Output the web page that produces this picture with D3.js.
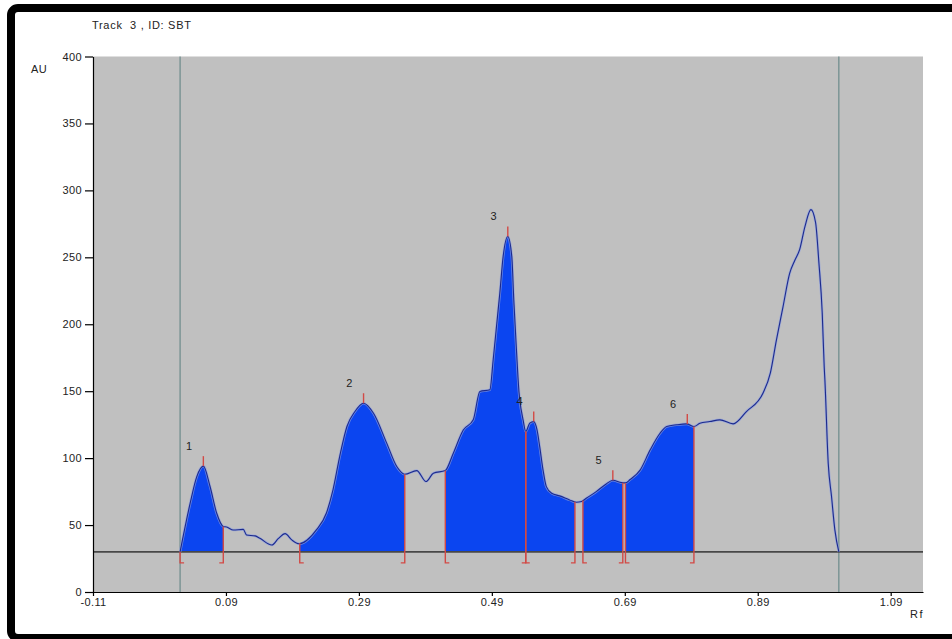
<!DOCTYPE html>
<html>
<head>
<meta charset="utf-8">
<script src="https://cdn.jsdelivr.net/npm/d3@7"></script>
<style>
  html, body { margin: 0; padding: 0; background: #fff; }
  svg text { font-family: "Liberation Sans", Arial, sans-serif; fill: #222; font-size: 11px; letter-spacing: 0.4px; }
</style>
</head>
<body>
<div id="chart"></div>
<script>
// densitogram trace (Rf, AU)
const rfValues = [
  0.021, 0.036, 0.046, 0.056, 0.066, 0.076, 0.086, 0.091, 0.101, 0.116,
  0.121, 0.134, 0.141, 0.159, 0.169, 0.179, 0.189, 0.200, 0.226, 0.241,
  0.251, 0.261, 0.272, 0.284, 0.297, 0.312, 0.332, 0.347, 0.359, 0.377,
  0.391, 0.402, 0.420, 0.432, 0.447, 0.462, 0.472, 0.487, 0.492, 0.497,
  0.502, 0.507, 0.514, 0.520, 0.523, 0.527, 0.531, 0.532, 0.537, 0.541,
  0.547, 0.553, 0.558, 0.562, 0.567, 0.572, 0.580, 0.592, 0.607, 0.617,
  0.625, 0.632, 0.647, 0.662, 0.672, 0.685, 0.691, 0.698, 0.713, 0.728,
  0.743, 0.753, 0.768, 0.783, 0.794, 0.803, 0.818, 0.833, 0.853, 0.873,
  0.898, 0.909, 0.918, 0.928, 0.938, 0.946, 0.953, 0.961, 0.970, 0.977,
  0.982, 0.987, 0.990, 0.991, 0.996, 1.001, 1.006, 1.012,
];
const auValues = [
  30, 66, 86, 94, 79, 59, 49, 48.6, 46.3, 46.8,
  42.6, 41.9, 40.1, 35.1, 40, 43.6, 38.9, 36, 46.4, 58.8,
  76.3, 101, 123.6, 134.8, 141, 133.5, 111, 93.7, 88, 90.7,
  82.5, 88.7, 90.7, 103.7, 121, 128.6, 149.8, 151, 173.5, 198.4,
  223.3, 250.7, 265.6, 250.7, 218.3, 181, 148.6, 143.6, 128.6, 119.9,
  126.1, 127.3, 121.1, 108.6, 91.2, 78.7, 73.8, 71.8, 68.8, 67,
  67.6, 70, 75, 80.7, 83.5, 81.7, 81.5, 84, 91, 106,
  118.6, 123.6, 124.9, 125.6, 123.6, 126, 127.3, 128.6, 125.6, 134.8,
  148.6, 163.7, 188, 213, 238, 248, 255.7, 273, 285.6, 276,
  246, 208.6, 168, 158.5, 96.4, 71.3, 46.4, 30,
];

// integrated peaks
const peakIds = [1, 2, 3, 4, 5, 6];
const peakStart = [0.021, 0.201, 0.420, 0.541, 0.627, 0.691];
const peakMax = [0.056, 0.297, 0.514, 0.553, 0.672, 0.784];
const peakEnd = [0.086, 0.359, 0.541, 0.615, 0.687, 0.794];

const baselineAU = 30;
const startRf = 0.021;
const frontRf = 1.012;

const yTicks = [0, 50, 100, 150, 200, 250, 300, 350, 400];
const xTicks = [-0.11, 0.09, 0.29, 0.49, 0.69, 0.89, 1.09];
const title = 'Track  3 , ID: SBT';

const W = 952;
const H = 639;
const plotLeft = 93;
const plotRight = 923;
const plotTop = 56.5;
const plotBottom = 592;

const svg = d3.select('#chart')
  .append('svg')
  .attr('width', W)
  .attr('height', H);

// black frame
svg.append('rect')
  .attr('x', 11).attr('y', 8)
  .attr('width', 1000).attr('height', 630)
  .attr('rx', 7)
  .attr('fill', '#fff')
  .attr('stroke', '#000')
  .attr('stroke-width', 8);

const x = d3.scaleLinear().domain([-0.11, 1.1386]).range([plotLeft, plotRight]);
const y = d3.scaleLinear().domain([0, 400]).range([plotBottom, plotTop]);

const trace = rfValues.map((rf, i) => ({ rf, au: auValues[i] }));

// value of the trace at any Rf (for the integration edges)
const auAt = (rf) => {
  const i = d3.bisector((d) => d.rf).left(trace, rf);
  if (i <= 0) return trace[0].au;
  if (i >= trace.length) return trace[trace.length - 1].au;
  const a = trace[i - 1];
  const b = trace[i];
  return a.au + (b.au - a.au) * (rf - a.rf) / (b.rf - a.rf);
};

// plot background
svg.append('rect')
  .attr('x', plotLeft).attr('y', plotTop)
  .attr('width', plotRight - plotLeft).attr('height', plotBottom - plotTop)
  .attr('fill', '#c0c0c0');

// filled peak areas
const area = d3.area()
  .curve(d3.curveMonotoneX)
  .x((d) => x(d.rf))
  .y0(y(baselineAU))
  .y1((d) => y(d.au));

peakIds.forEach((id, i) => {
  const s = peakStart[i];
  const e = peakEnd[i];
  const pts = [{ rf: s, au: auAt(s) }]
    .concat(trace.filter((d) => d.rf > s && d.rf < e))
    .concat([{ rf: e, au: auAt(e) }]);
  svg.append('path')
    .datum(pts)
    .attr('d', area)
    .attr('fill', '#0b45f0');
});

// start / front lines
svg.selectAll('.front')
  .data([startRf, frontRf])
  .enter()
  .append('line')
  .attr('class', 'front')
  .attr('x1', (d) => x(d)).attr('x2', (d) => x(d))
  .attr('y1', plotTop).attr('y2', plotBottom)
  .attr('stroke', '#6a8a8a')
  .attr('stroke-width', 1.2);

// baseline
svg.append('line')
  .attr('x1', plotLeft).attr('x2', plotRight)
  .attr('y1', y(baselineAU)).attr('y2', y(baselineAU))
  .attr('stroke', '#484848')
  .attr('stroke-width', 1.6);

// trace
const line = d3.line()
  .curve(d3.curveMonotoneX)
  .x((d) => x(d.rf))
  .y((d) => y(d.au));

svg.append('path')
  .datum(trace)
  .attr('d', line)
  .attr('fill', 'none')
  .attr('stroke', '#8e9fe0')
  .attr('stroke-width', 2.6)
  .attr('opacity', 0.7);

svg.append('path')
  .datum(trace)
  .attr('d', line)
  .attr('fill', 'none')
  .attr('stroke', '#1c2a8c')
  .attr('stroke-width', 1.1);

// integration marks: vertical line to below baseline with a small foot
const red = '#d24a46';
const yBase = y(baselineAU);
const marks = [];
peakIds.forEach((id, i) => {
  marks.push({ rf: peakStart[i], dir: 1 });
  marks.push({ rf: peakEnd[i], dir: -1 });
});

marks.forEach((m) => {
  const px = x(m.rf);
  svg.append('path')
    .attr('d', `M${px},${y(auAt(m.rf))}V${yBase + 11}h${m.dir * 4}`)
    .attr('fill', 'none')
    .attr('stroke', red)
    .attr('stroke-width', 1.4);
});

// peak maxima markers and labels
peakIds.forEach((id, i) => {
  const px = x(peakMax[i]);
  const py = y(auAt(peakMax[i]));
  svg.append('line')
    .attr('x1', px).attr('x2', px)
    .attr('y1', py).attr('y2', py - 10)
    .attr('stroke', red)
    .attr('stroke-width', 1.4);
  svg.append('text')
    .attr('x', px - 14)
    .attr('y', py - 20)
    .attr('dy', '0.35em')
    .attr('text-anchor', 'middle')
    .text(id);
});

// axes
const yAxis = d3.axisLeft(y)
  .tickValues(yTicks)
  .tickSize(8)
  .tickSizeOuter(0)
  .tickPadding(3);

const xAxis = d3.axisBottom(x)
  .tickValues(xTicks)
  .tickFormat((d) => d.toFixed(2))
  .tickSize(4)
  .tickSizeOuter(0)
  .tickPadding(2);

const gy = svg.append('g')
  .attr('transform', `translate(${plotLeft},0)`)
  .call(yAxis);

const gx = svg.append('g')
  .attr('transform', `translate(0,${plotBottom})`)
  .call(xAxis);

[gx, gy].forEach((g) => {
  g.attr('font-size', null).attr('font-family', null);
  g.selectAll('path, line').attr('stroke', '#000').attr('stroke-width', 1.2);
  g.selectAll('text').attr('fill', '#222');
});

// titles
svg.append('text')
  .attr('x', 92).attr('y', 29)
  .style('white-space', 'pre')
  .style('letter-spacing', '0.7px')
  .text(title);

svg.append('text')
  .attr('x', 31).attr('y', 73)
  .text('AU');

svg.append('text')
  .attr('x', 924).attr('y', 618)
  .attr('text-anchor', 'end')
  .style('letter-spacing', '1.5px')
  .text('Rf');
</script>
</body>
</html>
